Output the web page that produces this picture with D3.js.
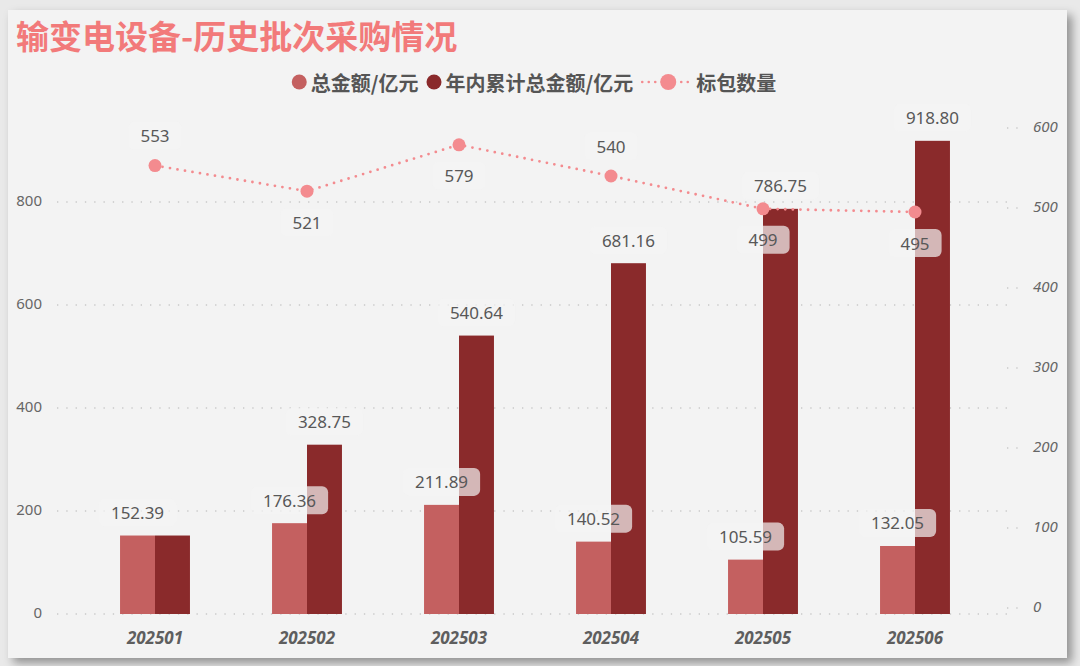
<!DOCTYPE html>
<html>
<head>
<meta charset="utf-8">
<script src="https://cdn.jsdelivr.net/npm/d3@7"></script>
<style>
  body { margin: 0; background: #e9e9e9; width: 1080px; height: 666px; overflow: hidden; position: relative; }
  #panel { position: absolute; left: 8px; top: 10px; width: 1059px; height: 648px; background: #f3f3f3;
           box-shadow: 5px 5px 9px rgba(0,0,0,0.38); }
  #chart { position: absolute; left: 0; top: 0; }
  text { font-family: "Noto Sans", "Noto Sans CJK SC", sans-serif; }
</style>
</head>
<body>
<div id="panel"></div>
<svg id="chart" width="1080" height="666"></svg>
<script>
// chart data
const categories = ["202501", "202502", "202503", "202504", "202505", "202506"];
const totalAmount = [152.39, 176.36, 211.89, 140.52, 105.59, 132.05];
const cumulativeAmount = [152.39, 328.75, 540.64, 681.16, 786.75, 918.80];
const packageCount = [553, 521, 579, 540, 499, 495];
const leftTicks = [0, 200, 400, 600, 800];
const rightTicks = [0, 100, 200, 300, 400, 500, 600];
const seriesNames = ["总金额/亿元", "年内累计总金额/亿元", "标包数量"];
const chartTitle = "输变电设备-历史批次采购情况";

// label placement for the line (above / below the point)
const countLabelSide = ["top", "bottom", "bottom", "top", "bottom", "bottom"];

const colors = { light: "#c46060", dark: "#8a2a2b", line: "#f38b8f", title: "#f27a7a", text: "#585858", grid: "#c9c9c9" };
const cjk = '"Noto Sans CJK SC", "Noto Sans", sans-serif';

const svg = d3.select("#chart");

// scales
const x = d3.scaleBand().domain(categories).range([79, 991]).paddingInner(0.54).paddingOuter(0.27);
const xs = d3.scaleBand().domain(["total", "cum"]).range([0, x.bandwidth()]);
const yL = d3.scaleLinear().domain([0, 1000]).range([614, 99]);
const yR = d3.scaleLinear().domain([0, 600]).range([608, 128]);
const cx = d => x(d) + x.bandwidth() / 2;

// title
svg.append("text")
    .attr("x", 16).attr("y", 49)
    .style("font-family", cjk).style("font-weight", "bold").style("font-size", "33px")
    .attr("fill", colors.title)
    .text(chartTitle);

// gridlines (left axis)
svg.append("g").selectAll("line")
    .data(leftTicks)
    .enter().append("line")
    .attr("x1", 57).attr("x2", 1012)
    .attr("y1", d => yL(d)).attr("y2", d => yL(d))
    .attr("stroke", colors.grid).attr("stroke-width", 1.3)
    .attr("stroke-dasharray", "1.3 8");

// short tick dots (right axis)
svg.append("g").selectAll("line")
    .data(rightTicks)
    .enter().append("line")
    .attr("x1", 1007).attr("x2", 1021)
    .attr("y1", d => yR(d)).attr("y2", d => yR(d))
    .attr("stroke", colors.grid).attr("stroke-width", 1.3)
    .attr("stroke-dasharray", "1.3 8");

// axis labels
svg.append("g").selectAll("text")
    .data(leftTicks)
    .enter().append("text")
    .attr("x", 42).attr("y", d => yL(d))
    .attr("text-anchor", "end").attr("dominant-baseline", "middle")
    .style("font-size", "15px").attr("fill", "#666")
    .text(d => d);

svg.append("g").selectAll("text")
    .data(rightTicks)
    .enter().append("text")
    .attr("x", 1033).attr("y", d => yR(d))
    .attr("dominant-baseline", "middle")
    .style("font-size", "15px").style("font-style", "italic").attr("fill", "#666")
    .text(d => d);

svg.append("g").selectAll("text")
    .data(categories)
    .enter().append("text")
    .attr("x", d => cx(d)).attr("y", 644)
    .attr("text-anchor", "middle")
    .style("font-size", "17px").style("font-style", "italic").style("font-weight", "bold")
    .attr("fill", "#5e5e5e")
    .text(d => d);

// bars
const groups = svg.append("g").selectAll("g")
    .data(categories)
    .enter().append("g")
    .attr("transform", d => `translate(${x(d)},0)`);

groups.append("rect")
    .attr("x", xs("total")).attr("width", xs.bandwidth())
    .attr("y", (d, i) => yL(totalAmount[i]))
    .attr("height", (d, i) => yL(0) - yL(totalAmount[i]))
    .attr("fill", colors.light);

groups.append("rect")
    .attr("x", xs("cum")).attr("width", xs.bandwidth())
    .attr("y", (d, i) => yL(cumulativeAmount[i]))
    .attr("height", (d, i) => yL(0) - yL(cumulativeAmount[i]))
    .attr("fill", colors.dark);

// line
const line = d3.line()
    .x((d, i) => cx(categories[i]))
    .y(d => yR(d));

svg.append("path")
    .datum(packageCount)
    .attr("d", line)
    .attr("fill", "none")
    .attr("stroke", colors.line).attr("stroke-width", 2.8)
    .attr("stroke-linecap", "round")
    .attr("stroke-dasharray", "0 7.6");

svg.append("g").selectAll("circle")
    .data(packageCount)
    .enter().append("circle")
    .attr("cx", (d, i) => cx(categories[i]))
    .attr("cy", d => yR(d))
    .attr("r", 6.5)
    .attr("fill", colors.line);

// value labels with translucent rounded boxes (only show over bars)
function addLabel(g, xPos, yMid, txt) {
    const box = g.append("rect");
    const t = g.append("text")
        .attr("x", xPos).attr("y", yMid)
        .attr("text-anchor", "middle").attr("dominant-baseline", "central")
        .style("font-size", "17px").attr("fill", colors.text)
        .text(txt);
    const w = t.node().getComputedTextLength() + 24;
    box.attr("x", xPos - w / 2).attr("y", yMid - 14)
        .attr("width", w).attr("height", 28)
        .attr("rx", 6)
        .attr("fill", "rgba(243,243,243,0.7)");
}

const labels = svg.append("g");
categories.forEach((c, i) => {
    addLabel(labels.append("g"), x(c) + xs("total") + xs.bandwidth() / 2,
        yL(totalAmount[i]) - 23, totalAmount[i].toFixed(2));
    if (cumulativeAmount[i] !== totalAmount[i]) {
        addLabel(labels.append("g"), x(c) + xs("cum") + xs.bandwidth() / 2,
            yL(cumulativeAmount[i]) - 23, cumulativeAmount[i].toFixed(2));
    }
});
packageCount.forEach((v, i) => {
    const off = countLabelSide[i] === "top" ? -30 : 31;
    addLabel(labels.append("g"), cx(categories[i]), yR(v) + off, String(v));
});

// legend
const legend = svg.append("g");
const legendY = 82;
let lx = 0;
seriesNames.forEach((name, i) => {
    const g = legend.append("g");
    let textX;
    if (i < 2) {
        g.append("circle").attr("cx", lx + 7.5).attr("cy", legendY).attr("r", 7.5)
            .attr("fill", i === 0 ? colors.light : colors.dark);
        textX = lx + 19;
    } else {
        g.append("line").attr("x1", lx + 1).attr("x2", lx + 50)
            .attr("y1", legendY).attr("y2", legendY)
            .attr("stroke", colors.line).attr("stroke-width", 2.6)
            .attr("stroke-linecap", "round").attr("stroke-dasharray", "0 6.5");
        g.append("circle").attr("cx", lx + 27).attr("cy", legendY).attr("r", 8)
            .attr("fill", colors.line);
        textX = lx + 55;
    }
    const t = g.append("text")
        .attr("x", textX).attr("y", legendY)
        .attr("dominant-baseline", "central")
        .style("font-family", cjk).style("font-weight", "bold").style("font-size", "20px")
        .attr("fill", "#555")
        .text(name);
    lx = textX + t.node().getComputedTextLength() + 8;
});
const legendWidth = lx - 8;
legend.attr("transform", `translate(${534 - legendWidth / 2},0)`);
</script>
</body>
</html>
